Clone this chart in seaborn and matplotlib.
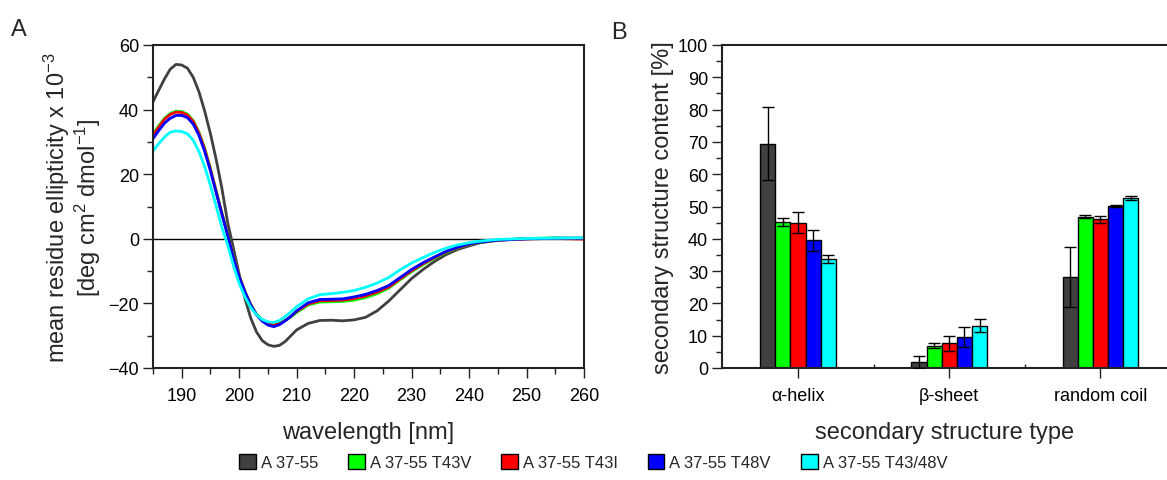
import numpy as np
import pandas as pd
import matplotlib
matplotlib.use("Agg")
import matplotlib.pyplot as plt
from matplotlib.patches import Patch
from matplotlib.ticker import MultipleLocator
import seaborn as sns

# ---------------- data ----------------
series = ["A 37-55", "A 37-55 T43V", "A 37-55 T43I", "A 37-55 T48V", "A 37-55 T43/48V"]
colors = ["#404040", "#00ff00", "#ff0000", "#0000ff", "#00ffff"]

wavelength = [185, 186, 187, 188, 189, 190, 191, 192, 193, 194, 195, 196, 197, 198, 199,
              200, 201, 202, 203, 204, 205, 206, 207, 208, 209, 210, 212, 214, 216, 218,
              220, 222, 224, 226, 228, 230, 232, 234, 236, 238, 240, 242, 245, 250, 255, 260]

cd_wt = [42.4, 46.0, 49.5, 52.5, 54.0, 53.8, 52.8, 50.0, 45.5, 39.5, 32.5, 24.5, 15.5, 5.0, -3.0,
         -11.0, -18.5, -24.5, -28.8, -31.5, -32.8, -33.3, -33.0, -31.8, -30.0, -28.2, -26.2, -25.3, -25.2, -25.4,
         -25.1, -24.3, -22.3, -19.3, -15.8, -12.3, -9.5, -7.0, -4.9, -3.3, -2.2, -1.2, -0.5, 0.0, 0.1, 0.2]
cd_t43v = [32.5, 35.0, 37.3, 38.8, 39.5, 39.4, 38.6, 36.6, 33.0, 28.0, 21.8, 14.8, 8.0, 1.5, -5.5,
           -11.5, -16.3, -20.3, -23.3, -25.0, -26.0, -26.4, -26.1, -25.3, -24.2, -22.8, -20.5, -19.6, -19.5, -19.4,
           -19.0, -18.2, -17.0, -15.3, -12.7, -10.2, -8.0, -6.0, -4.2, -2.8, -1.8, -1.1, -0.4, 0.1, 0.3, 0.1]
cd_t43i = [32.0, 34.6, 37.0, 38.5, 39.2, 39.1, 38.3, 36.3, 32.7, 27.7, 21.5, 14.6, 7.8, 1.2, -5.7,
           -11.6, -16.4, -20.4, -23.5, -25.3, -26.3, -26.7, -26.3, -25.3, -24.0, -22.5, -20.2, -19.2, -19.1, -19.0,
           -18.5, -17.7, -16.5, -15.0, -12.4, -9.9, -7.7, -5.8, -4.0, -2.7, -1.7, -1.0, -0.4, 0.0, 0.1, -0.1]
cd_t48v = [31.0, 33.5, 35.8, 37.3, 38.2, 38.2, 37.5, 35.5, 32.0, 27.0, 21.0, 14.2, 7.5, 1.0, -6.0,
           -11.8, -16.5, -20.5, -23.5, -25.5, -26.7, -27.2, -26.6, -25.4, -24.0, -22.3, -19.8, -18.8, -18.7, -18.6,
           -18.0, -17.2, -16.0, -14.5, -12.0, -9.5, -7.4, -5.6, -3.9, -2.6, -1.6, -1.0, -0.4, 0.0, 0.2, 0.2]
cd_t4348v = [27.2, 29.5, 31.5, 33.0, 33.4, 33.2, 32.5, 30.5, 27.0, 22.3, 16.5, 10.0, 3.5, -2.0, -8.3,
             -13.8, -18.0, -21.3, -23.5, -25.0, -25.7, -25.9, -25.3, -24.1, -22.6, -21.0, -18.6, -17.3, -17.0, -16.6,
             -16.0, -15.0, -13.7, -12.0, -9.6, -7.5, -5.8, -4.2, -2.9, -1.9, -1.2, -0.7, -0.2, 0.1, 0.2, 0.3]
cd_all = [cd_wt, cd_t43v, cd_t43i, cd_t48v, cd_t4348v]

structure_types = ["\u03b1-helix", "\u03b2-sheet", "random coil"]
content_wt = [69.5, 1.8, 28.3]
content_t43v = [45.3, 6.9, 46.8]
content_t43i = [45.0, 7.7, 46.1]
content_t48v = [39.5, 9.7, 50.2]
content_t4348v = [33.7, 13.1, 52.6]
err_wt = [11.3, 1.8, 9.3]
err_t43v = [1.2, 0.7, 0.5]
err_t43i = [3.2, 2.3, 1.1]
err_t48v = [3.3, 3.1, 0.4]
err_t4348v = [1.3, 2.0, 0.7]
content_all = [content_wt, content_t43v, content_t43i, content_t48v, content_t4348v]
err_all = [err_wt, err_t43v, err_t43i, err_t48v, err_t4348v]

# ---------------- style ----------------
sns.set_theme(style="white")
plt.rcParams["font.family"] = ["Liberation Sans", "DejaVu Sans"]
plt.rcParams["mathtext.fontset"] = "custom"
plt.rcParams["mathtext.rm"] = "Liberation Sans"
plt.rcParams["mathtext.it"] = "Liberation Sans"

fig = plt.figure(figsize=(11.67, 4.81), dpi=100)
axA = fig.add_axes([153 / 1167, 1 - 369 / 481, 431 / 1167, 323 / 481])
axB = fig.add_axes([722 / 1167, 1 - 369 / 481, 445 / 1167, 323 / 481])

tick_fs = 13
label_fs = 17

# ---------------- panel A ----------------
cd_df = pd.DataFrame({
    "wavelength": np.tile(wavelength, len(series)),
    "ellipticity": np.concatenate(cd_all),
    "sample": np.repeat(series, len(wavelength)),
})
sns.lineplot(data=cd_df, x="wavelength", y="ellipticity", hue="sample", hue_order=series,
             palette=colors, linewidth=2.0, legend=False, ax=axA, sort=False)
axA.axhline(0, color="black", linewidth=1.0, zorder=0)
axA.set_xlim(185, 260)
axA.set_ylim(-40, 60)
axA.xaxis.set_minor_locator(MultipleLocator(5))
axA.yaxis.set_major_locator(MultipleLocator(20))
axA.yaxis.set_minor_locator(MultipleLocator(10))
axA.set_xticks(range(190, 261, 10))
axA.set_xlabel("wavelength [nm]", fontsize=label_fs, labelpad=12)
axA.set_ylabel("mean residue ellipticity x 10$^{-3}$\n[deg cm$^{2}$ dmol$^{-1}$]",
               fontsize=label_fs, labelpad=4, linespacing=1.05)

# ---------------- panel B ----------------
bar_df = pd.DataFrame({
    "type": np.tile(structure_types, len(series)),
    "content": np.concatenate(content_all),
    "err": np.concatenate(err_all),
    "sample": np.repeat(series, len(structure_types)),
})
sns.barplot(data=bar_df, x="type", y="content", hue="sample", hue_order=series,
            order=structure_types, palette=colors, width=0.5, errorbar=None,
            edgecolor="black", linewidth=1.0, saturation=1, legend=False, ax=axB)
bars = [p for p in axB.patches]
for i, name in enumerate(series):
    sub = bar_df[bar_df["sample"] == name]
    grp = bars[i * len(structure_types):(i + 1) * len(structure_types)]
    xs = [b.get_x() + b.get_width() / 2 for b in grp]
    axB.errorbar(xs, sub["content"], yerr=sub["err"], fmt="none", ecolor="black",
                 elinewidth=1.0, capsize=4, capthick=1.0, zorder=5)
axB.set_xlim(-0.503, 2.44)
axB.set_ylim(0, 100)
axB.yaxis.set_major_locator(MultipleLocator(10))
axB.yaxis.set_minor_locator(MultipleLocator(5))
axB.set_xticks([0.5, 1.5], minor=True)
axB.set_xlabel("secondary structure type", fontsize=label_fs, labelpad=12)
axB.set_ylabel("secondary structure content [%]", fontsize=label_fs, labelpad=3)
axB.spines["right"].set_visible(False)

# ---------------- common axes styling ----------------
for ax in (axA, axB):
    for s in ax.spines.values():
        s.set_color("#222222")
        s.set_linewidth(1.5)
    ax.tick_params(axis="both", which="major", direction="out", length=7, width=1.0,
                   labelsize=tick_fs, colors="#222222", labelcolor="black",
                   bottom=True, left=True, top=False, right=False, pad=3)
    ax.tick_params(axis="both", which="minor", direction="out", length=4, width=1.0,
                   colors="#222222", bottom=True, left=True, top=False, right=False)
    ax.tick_params(axis="x", which="major", pad=7)
axB.tick_params(axis="x", which="minor", direction="in", length=3)

fig.text(19 / 1167, 1 - 30 / 481, "A", fontsize=17, ha="center", va="center")
fig.text(619 / 1167, 1 - 33 / 481, "B", fontsize=17, ha="center", va="center")

handles = [Patch(facecolor=c, edgecolor="black", linewidth=1.0) for c in colors]
fig.legend(handles, series, loc="center", bbox_to_anchor=(593 / 1167, 1 - 463 / 481),
           ncol=5, frameon=False, fontsize=12, handlelength=1.0, handleheight=1.0,
           handletextpad=0.3, columnspacing=1.8, borderaxespad=0)

fig.savefig("out.png", dpi=100)
